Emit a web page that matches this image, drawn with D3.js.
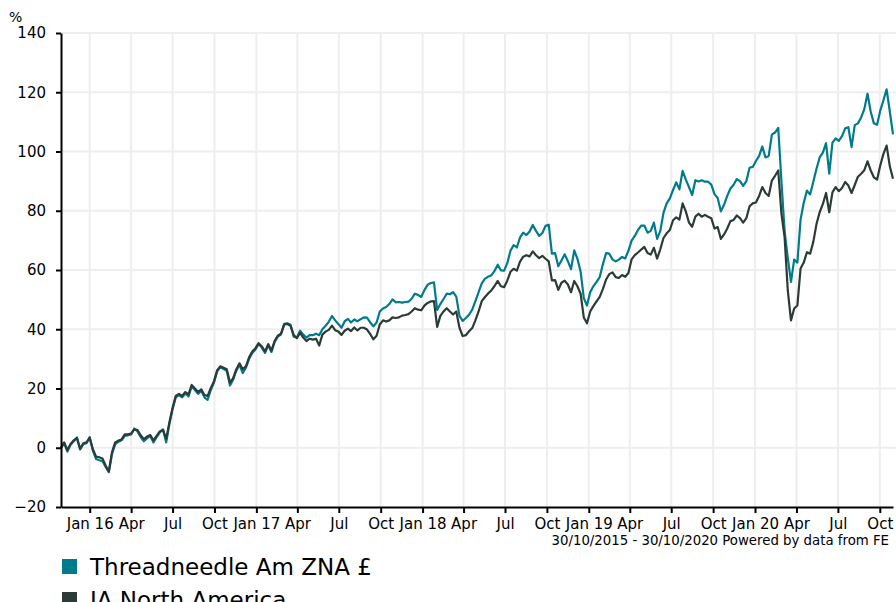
<!DOCTYPE html>
<html>
<head>
<meta charset="utf-8">
<script src="https://cdn.jsdelivr.net/npm/d3@7"></script>
<style>
  body { margin: 0; background: #fff; }
  text { font-family: "DejaVu Sans", Verdana, sans-serif; }
</style>
</head>
<body>
<div class="chart"></div>
<script>
// Cumulative performance, weekly closes from 30/10/2015 to 30/10/2020
const startDate = new Date(2015, 9, 30);
const endDate = new Date(2020, 9, 30);
const seriesNames = ["Threadneedle Am ZNA £", "IA North America"];
const seriesColors = ["#007b8c", "#2c3b38"];
const yTicks = [-20, 0, 20, 40, 60, 80, 100, 120, 140];
const rangeText = "30/10/2015 - 30/10/2020 Powered by data from FE";

const fundValues = [
  0, 1.5, -1.3, 1, 2.2, 3.5, -0.6, 1.2, 1.5, 3.6, -1, -3.8, -4.2, -4.5, -6.5,
  -8.2, -2.2, 1.2, 2, 2.5, 4, 4.2, 4.5, 6.5, 5.5, 3.6, 2.2, 3.2, 4, 1.8,
  3.6, 5.2, 6.2, 1.8, 8, 13, 17, 17.8, 17, 18.3, 17.3, 20.8, 19.5, 18.2,
  19.2, 17, 16.2, 19.5, 22, 25.8, 27.2, 26.6, 26, 21, 23, 26, 28, 25.2, 27,
  30, 32, 33.2, 35, 33.8, 32, 34.6, 32.3, 35.6, 37.5, 38.2, 41.8, 42, 41.5, 37.5,
  37.2, 39.5, 38.2, 37.2, 38, 38, 38.5, 38, 40, 41.2, 42.5, 44.5, 43, 41.8,
  40.5, 42.7, 43.5, 42.3, 43.3, 42.7, 43.4, 44, 43.9, 42.3, 41, 42.3, 46, 47, 47.5,
  48.5, 50.1, 49.1, 49.2, 49, 49.2, 49.3, 50.3, 52, 51.6, 50.9, 53.2, 55, 55.6, 55.8,
  46.5, 48.5, 50.2, 52, 51.8, 52.5, 51, 44.5, 42.8, 43.8, 44.9, 46.6, 49.5, 52.5,
  55.5, 57.1, 57.7, 58.2, 59.7, 61.8, 59.9, 59.8, 62.3, 66.5, 68.4, 67.6, 71, 72.6, 71.8,
  73, 75.2, 73.2, 71.5, 72.5, 74.9, 75.3, 65.5, 65.7, 61.3, 63.2, 65.3, 63, 60.3, 66.6,
  63.8, 59.5, 50.5, 48, 52.5, 54.5, 56, 57.6, 62, 65.7, 65.5, 63.6, 62.9,
  63.5, 64.4, 63.9, 66.5, 69.9, 71.5, 73.5, 75, 75, 72.6, 73.2, 76, 70.5, 73.2, 79.3,
  82.5, 84.2, 87, 89.6, 87.2, 93.5, 90.5, 88, 85.3, 90.3, 89.9, 90.3, 89.8, 89.8, 88.8,
  85.6, 84.3, 79.8, 82, 85, 87.5, 88.8, 90.7, 90, 88.4, 90, 94.5, 94.8,
  96.8, 98.5, 101.7, 98, 98.5, 105.7, 106.4, 108, 90, 73, 64, 56, 63.5, 62.5, 77,
  82.7, 86.8, 85.5, 89.8, 94.2, 98, 99.6, 102.8, 92.5, 103, 104.4, 103.6, 105.2, 107.8, 108.2,
  101.5, 108.9, 109.5, 111.5, 114.3, 119.5, 113.5, 109.5, 109, 113.8, 117.3, 121, 113.5, 105.8
];

const sectorValues = [
  0, 1.8, -0.8, 1.3, 2.5, 3.2, -0.3, 1.5, 1.8, 3.3, -0.5, -3, -3.2, -3.6, -6,
  -8, -1.5, 1.8, 2.4, 2.8, 4.5, 4.5, 4.8, 6.2, 6, 4.2, 2.9, 3.8, 4.3, 2.5,
  4, 5.5, 6, 3, 8.5, 13.5, 17.5, 18.2, 17.5, 18.8, 18, 21.2, 20, 18.8,
  19.7, 17.8, 17.5, 20.2, 22.5, 26.2, 27.5, 27, 26.5, 22, 23.5, 26.5, 28.5, 26.5, 27.5,
  30.5, 32.5, 33.6, 35.3, 34.2, 32.5, 35, 32.8, 36, 37.8, 38.5, 41.5, 41.8, 41.2, 38,
  37, 38.8, 37.2, 36, 36.8, 36.5, 36.8, 34.5, 38.2, 39.2, 39.8, 41.2, 39.7, 39.2,
  38.1, 39.5, 40.2, 39.4, 40.6, 39.6, 40.5, 40.5, 39.9, 38.4, 36.6, 37.8, 41.6, 43, 42.6,
  43, 44, 43.8, 44, 44.6, 44.8, 45.1, 46, 47.1, 46.6, 46.4, 48, 48.9, 49.4, 49.5,
  40.8, 44.5, 46, 47.1, 46, 45, 46, 40.5, 37.7, 38, 39.3, 40.4, 43, 46,
  49.5, 50.9, 52.1, 53.1, 54.6, 56.3, 54.5, 54.2, 56.4, 59.4, 60.4, 59.8, 62.8, 64.5, 65,
  64.6, 66.3, 65, 64, 64.8, 63.8, 62.9, 56.5, 56.6, 53.3, 55.7, 56.4, 55.1, 52.5, 56.3,
  54.5, 52, 44, 42, 46, 47.8, 49.4, 50.9, 53.6, 56.8, 58.6, 59.2, 57.6,
  57.3, 58.3, 57.7, 59, 63.6, 65, 65.9, 66.9, 67.8, 65.7, 65.2, 67.5, 63.8, 67, 70.8,
  72.4, 73.5, 76.8, 77.8, 77, 82.5, 79.8, 76, 74.6, 78, 79, 78, 78.6, 78, 77.5,
  74, 74.5, 70.5, 72, 74, 76.5, 76.9, 78.4, 77.5, 76, 77.5, 81.5, 82.5,
  82.8, 85, 88, 86, 85, 90.2, 91.8, 93.6, 79, 71, 53, 43, 47, 48, 60.5,
  62.5, 66, 65.5, 69.5, 75.5, 79.5, 82.3, 86, 79.5, 86.2, 88, 86.6, 87.7, 89.7, 88.5,
  86, 88.7, 91.5, 92.5, 93.7, 96.7, 93.6, 91.3, 90.5, 95.3, 99.2, 102, 95, 90.8
];

// Set the dimensions and margins of the graph
const margin = { top: 33, right: 3, bottom: 95, left: 61 },
  width = 896 - margin.left - margin.right,
  height = 602 - margin.top - margin.bottom;

const svg = d3.select(".chart")
  .append("svg")
  .attr("width", width + margin.left + margin.right)
  .attr("height", height + margin.top + margin.bottom);

const g = svg.append("g")
  .attr("transform", "translate(" + margin.left + "," + margin.top + ")");

// one date per weekly value
const dates = fundValues.map(function (v, i) { return d3.timeDay.offset(startDate, 7 * i); });

const x = d3.scaleTime().domain([startDate, endDate]).range([0, width]);
const y = d3.scaleLinear().domain([yTicks[0], yTicks[yTicks.length - 1]]).range([height, 0]);

const xTicks = d3.timeMonth.every(3).range(new Date(2016, 0, 1), endDate);

function formatTick(d) {
  return d.getMonth() === 0 ? d3.timeFormat("%b %y")(d) : d3.timeFormat("%b")(d);
}

// Gridlines
g.append("g")
  .selectAll("line")
  .data(yTicks.slice(1))
  .enter()
  .append("line")
  .attr("x1", 0)
  .attr("x2", width + margin.right)
  .attr("y1", function (d) { return y(d); })
  .attr("y2", function (d) { return y(d); })
  .attr("stroke", "#eeeeee")
  .attr("stroke-width", 2);

g.append("g")
  .selectAll("line")
  .data(xTicks)
  .enter()
  .append("line")
  .attr("x1", function (d) { return x(d); })
  .attr("x2", function (d) { return x(d); })
  .attr("y1", 0)
  .attr("y2", height)
  .attr("stroke", "#eeeeee")
  .attr("stroke-width", 2);

// Lines: fund first, sector on top
const line = d3.line()
  .x(function (d, i) { return x(dates[i]); })
  .y(function (d) { return y(d); });

[fundValues, sectorValues].forEach(function (values, k) {
  g.append("path")
    .datum(values)
    .attr("fill", "none")
    .attr("stroke", seriesColors[k])
    .attr("stroke-width", 2.2)
    .attr("stroke-linejoin", "round")
    .attr("d", line);
});

// Axes
const xAxis = g.append("g")
  .attr("transform", "translate(0," + height + ")")
  .call(d3.axisBottom(x).tickValues(xTicks).tickFormat(formatTick)
    .tickSize(6).tickSizeOuter(0).tickPadding(5));

const yAxis = g.append("g")
  .call(d3.axisLeft(y).tickValues(yTicks).tickSize(5).tickSizeOuter(0).tickPadding(10));

[xAxis, yAxis].forEach(function (a) {
  a.select(".domain").attr("stroke", "#000").attr("stroke-width", 2);
  a.selectAll(".tick line").attr("stroke", "#000").attr("stroke-width", 2);
  a.selectAll(".tick text")
    .style("font-family", "'DejaVu Sans', Verdana, sans-serif")
    .style("font-size", "15px")
    .attr("fill", "#000");
});

// Unit label
svg.append("text")
  .attr("x", 9)
  .attr("y", 22)
  .style("font-size", "14px")
  .text("%");

// Date range / source
svg.append("text")
  .attr("x", 889)
  .attr("y", 545)
  .attr("text-anchor", "end")
  .style("font-size", "13.3px")
  .text(rangeText);

// Legend
const legend = svg.append("g")
  .attr("transform", "translate(62,559)");

const items = legend.selectAll("g")
  .data(seriesNames)
  .enter()
  .append("g")
  .attr("transform", function (d, i) { return "translate(0," + (i * 33) + ")"; });

items.append("rect")
  .attr("width", 15)
  .attr("height", 15)
  .attr("fill", function (d, i) { return seriesColors[i]; });

items.append("text")
  .attr("x", 28)
  .attr("y", 16)
  .style("font-size", "23px")
  .attr("fill", "#000")
  .text(function (d) { return d; });
</script>
</body>
</html>
